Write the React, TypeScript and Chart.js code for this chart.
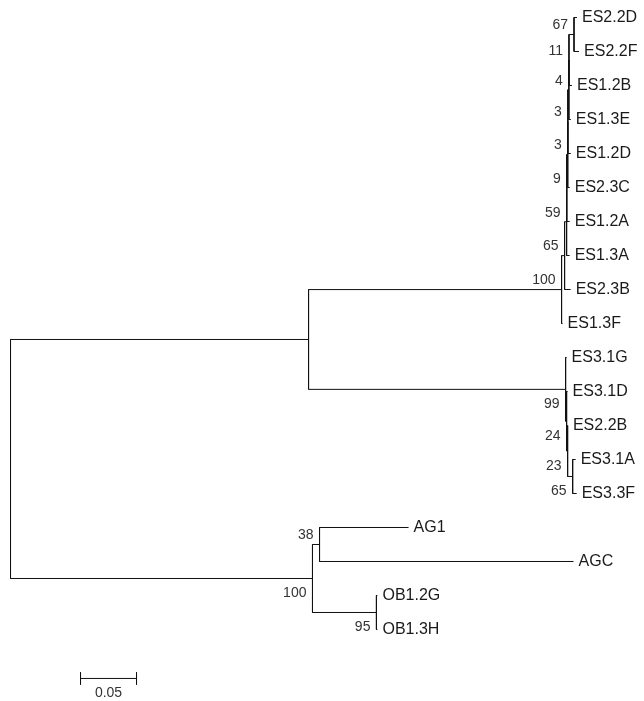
import React, { useEffect, useRef } from 'react';
import { Chart, registerables } from 'chart.js';

Chart.register(...registerables);

// Leaf taxa (top to bottom) and their terminal branch lengths (substitutions/site)
const taxa = ['ES2.2D', 'ES2.2F', 'ES1.2B', 'ES1.3E', 'ES1.2D', 'ES2.3C', 'ES1.2A', 'ES1.3A', 'ES2.3B', 'ES1.3F',
  'ES3.1G', 'ES3.1D', 'ES2.2B', 'ES3.1A', 'ES3.3F', 'AG1', 'AGC', 'OB1.2G', 'OB1.3H'];
const taxonBranch = [0.0027, 0.0045, 0.0027, 0.0018, 0.0027, 0.0018, 0.0027, 0.0027, 0.0054, 0.0009,
  0.0009, 0.0009, 0.0003, 0.0027, 0.0036, 0.0795, 0.2268, 0.0009, 0.0009];

// Internal clades: id, children (upper, lower), branch length, bootstrap support
const cladeIds = ['A67', 'A11', 'A4', 'A3', 'A3b', 'A9', 'A59', 'A65', 'A100', 'B65', 'B23', 'B24', 'B99', 'ES', 'C38', 'C95', 'C100', 'root'];
const cladeChildren = [
  ['ES2.2D', 'ES2.2F'], ['A67', 'ES1.2B'], ['A11', 'ES1.3E'], ['A4', 'ES1.2D'], ['A3', 'ES2.3C'],
  ['A3b', 'ES1.2A'], ['A9', 'ES1.3A'], ['A59', 'ES2.3B'], ['A65', 'ES1.3F'],
  ['ES3.1A', 'ES3.3F'], ['ES2.2B', 'B65'], ['ES3.1D', 'B23'], ['ES3.1G', 'B24'],
  ['A100', 'B99'], ['AG1', 'AGC'], ['OB1.2G', 'OB1.3H'], ['C38', 'C95'], ['ES', 'C100'],
];
const cladeBranch = [0.0045, 0.0001, 0.0009, 0.0001, 0.0009, 0.0001, 0.0018, 0.0027, 0.2259,
  0.0045, 0.0009, 0.0009, 0.2295, 0.2661, 0.0063, 0.0571, 0.2696, 0];
const cladeSupport = [67, 11, 4, 3, 3, 9, 59, 65, 100, 65, 23, 24, 99, null, 38, 95, 100, null];

const scaleBarValue = 0.05;
const scaleBarLabel = '0.05';

// layout (view window in data units)
const X_MIN = -0.0094;
const X_MAX = 0.5656;
const Y_MIN = -0.5147;
const Y_MAX = 20.103;
const SCALE_BAR_X = 0.0625;
const SCALE_BAR_Y = 19.44;

type NodeInfo = { x: number; y: number; children: string[]; len: number; support: number | null; parent?: string; childIdx?: number };

function buildTree() {
  const nodes: Record<string, NodeInfo> = {};
  taxa.forEach((t, i) => {
    nodes[t] = { x: 0, y: i, children: [], len: taxonBranch[i], support: null };
  });
  cladeIds.forEach((c, i) => {
    nodes[c] = { x: 0, y: 0, children: cladeChildren[i], len: cladeBranch[i], support: cladeSupport[i] };
  });
  cladeIds.forEach((c) => {
    nodes[c].children.forEach((ch, k) => {
      nodes[ch].parent = c;
      nodes[ch].childIdx = k;
    });
  });
  const place = (id: string, px: number) => {
    const n = nodes[id];
    n.x = px + n.len;
    if (n.children.length) {
      n.children.forEach((ch) => place(ch, n.x));
      const ys = n.children.map((ch) => nodes[ch].y);
      n.y = (Math.min(...ys) + Math.max(...ys)) / 2;
    }
  };
  place('root', 0);
  return nodes;
}

export default function App() {
  const ref = useRef<HTMLCanvasElement | null>(null);
  useEffect(() => {
    const nodes = buildTree();
    const segs: { x: number; y: number }[][] = [];
    Object.keys(nodes).forEach((id) => {
      const n = nodes[id];
      if (n.parent) {
        const p = nodes[n.parent];
        segs.push([{ x: p.x, y: n.y }, { x: n.x, y: n.y }]);
      }
      if (n.children.length) {
        const ys = n.children.map((ch) => nodes[ch].y);
        segs.push([{ x: n.x, y: Math.min(...ys) }, { x: n.x, y: Math.max(...ys) }]);
      }
    });
    // scale bar
    segs.push([{ x: SCALE_BAR_X, y: SCALE_BAR_Y }, { x: SCALE_BAR_X + scaleBarValue, y: SCALE_BAR_Y }]);
    segs.push([{ x: SCALE_BAR_X, y: SCALE_BAR_Y - 0.18 }, { x: SCALE_BAR_X, y: SCALE_BAR_Y + 0.18 }]);
    segs.push([{ x: SCALE_BAR_X + scaleBarValue, y: SCALE_BAR_Y - 0.18 }, { x: SCALE_BAR_X + scaleBarValue, y: SCALE_BAR_Y + 0.18 }]);

    const labelPlugin = {
      id: 'treeLabels',
      afterDatasetsDraw(chart: any) {
        const { ctx, scales } = chart;
        const xs = scales.x;
        const ys = scales.y;
        ctx.save();
        ctx.fillStyle = '#1a1a1a';
        ctx.font = '16px "Liberation Sans", Arial, sans-serif';
        ctx.textAlign = 'left';
        ctx.textBaseline = 'middle';
        taxa.forEach((t) => {
          const n = nodes[t];
          ctx.fillText(t, xs.getPixelForValue(n.x) + 5, ys.getPixelForValue(n.y));
        });
        ctx.fillStyle = '#333';
        ctx.font = '14px "Liberation Sans", Arial, sans-serif';
        ctx.textAlign = 'right';
        cladeIds.forEach((c) => {
          const n = nodes[c];
          if (n.support === null) return;
          const px = xs.getPixelForValue(n.x) - 6;
          const py = ys.getPixelForValue(n.y) + (n.childIdx === 0 ? -9 : 15);
          ctx.fillText(String(n.support), px, py);
        });
        ctx.textAlign = 'center';
        ctx.fillText(scaleBarLabel, xs.getPixelForValue(SCALE_BAR_X + scaleBarValue / 2), ys.getPixelForValue(SCALE_BAR_Y) + 15);
        ctx.restore();
      },
    };

    const chart = new Chart(ref.current as HTMLCanvasElement, {
      type: 'scatter',
      data: {
        datasets: segs.map((s) => ({
          data: s,
          showLine: true,
          borderColor: '#111',
          borderWidth: 1,
          pointRadius: 0,
          fill: false,
        })),
      },
      options: {
        animation: false,
        responsive: true,
        maintainAspectRatio: false,
        layout: { padding: 0 },
        plugins: { legend: { display: false }, tooltip: { enabled: false } },
        scales: {
          x: { type: 'linear', display: false, min: X_MIN, max: X_MAX },
          y: { type: 'linear', display: false, reverse: true, min: Y_MIN, max: Y_MAX },
        },
      },
      plugins: [labelPlugin],
    });
    return () => chart.destroy();
  }, []);
  return (
    <div style={{ position: 'fixed', left: 0, top: 0, width: 644, height: 701, background: '#fff' }}>
      <canvas ref={ref} />
    </div>
  );
}
